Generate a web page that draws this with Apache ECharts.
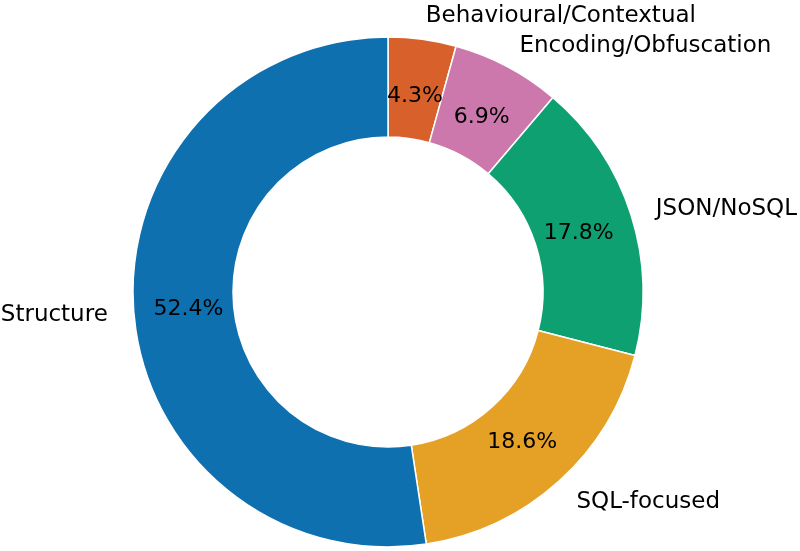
<!DOCTYPE html>
<html>
<head>
<meta charset="utf-8">
<script src="https://cdn.jsdelivr.net/npm/echarts@6/dist/echarts.min.js"></script>
<style>
  html, body { margin: 0; padding: 0; background: #fff; }
  #main { width: 800px; height: 551px; }
</style>
</head>
<body>
<div id="main"></div>
<script>
// slices go clockwise from 12 o'clock
var categories = ['Behavioural/Contextual', 'Encoding/Obfuscation', 'JSON/NoSQL', 'SQL-focused', 'Structure'];
var shares = [4.3, 6.9, 17.8, 18.6, 52.4];
var colors = ['#d8602a', '#cc78ac', '#0ea070', '#e5a125', '#0f70b0'];

var chart = echarts.init(document.getElementById('main'));

var pieData = categories.map(function (name, i) {
    return { name: name, value: shares[i], itemStyle: { color: colors[i] } };
});
// same slices, invisible, only carrying the percent text
var pctData = categories.map(function (name, i) {
    return { name: name, value: shares[i] };
});

var option = {
    animation: false,
    series: [
        {
            // the ring + outer category labels
            type: 'pie',
            center: [388, 292],
            radius: [155, 255],
            startAngle: 90,
            clockwise: true,
            avoidLabelOverlap: false,
            itemStyle: { borderColor: '#fff', borderWidth: 1.5 },
            label: {
                position: 'outside',
                formatter: '{b}',
                fontFamily: 'DejaVu Sans',
                fontSize: 23,
                color: '#000',
                distanceToLabelLine: 0,
                offset: [0, 2]
            },
            labelLine: { show: false, length: 26, length2: 0 },
            emphasis: { disabled: true },
            data: pieData
        },
        {
            // percentage labels, ring radius here only sets where text sits (~200px)
            type: 'pie',
            center: [388, 292],
            radius: [155, 239],
            startAngle: 90,
            clockwise: true,
            silent: true,
            avoidLabelOverlap: false,
            itemStyle: { color: 'rgba(0,0,0,0)', borderWidth: 0 },
            label: {
                position: 'inside',
                formatter: function (p) { return p.value.toFixed(1) + '%'; },
                fontFamily: 'DejaVu Sans',
                fontSize: 22,
                color: '#000',
                offset: [0, 2]
            },
            labelLine: { show: false },
            emphasis: { disabled: true },
            data: pctData
        }
    ]
};

chart.setOption(option);
</script>
</body>
</html>
